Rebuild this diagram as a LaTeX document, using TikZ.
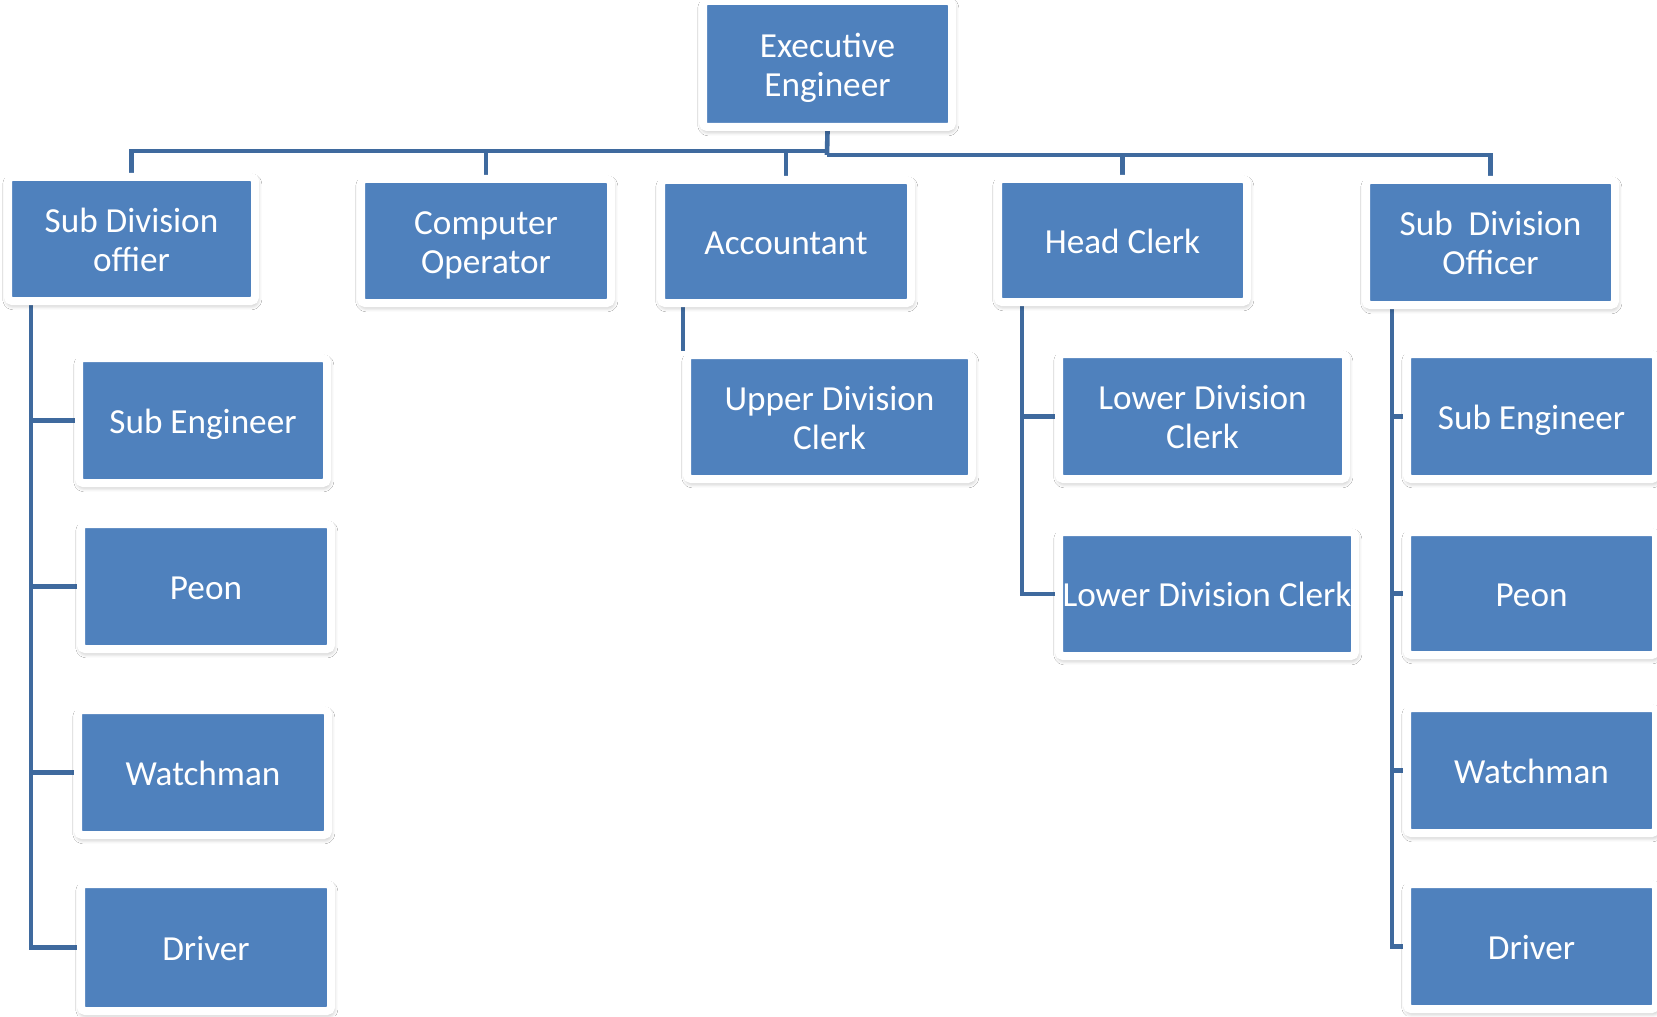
\documentclass[tikz,border=0pt]{standalone}
\usepackage{fontspec}
\setmainfont{Carlito}
\usetikzlibrary{backgrounds,shadows.blur}
\definecolor{boxblue}{HTML}{4F81BD}
\definecolor{linkblue}{HTML}{3F6A9E}
% one staff box: name, blue area (x1,y1)-(x2,y2) in px, label
\newcommand\staffbox[6]{%
  \node[orgbox, minimum width={(#4-#2+8)*0.5pt}, minimum height={(#5-#3+8)*0.5pt}]
    (#1) at ({(#2+#4)/2},{(#3+#5)/2})
    {\raisebox{-2.5pt}[\height][\depth]{\begin{tabular}{@{}c@{}}#6\end{tabular}}};}
\begin{document}
\begin{tikzpicture}[x=0.5pt,y=-0.5pt,
  orgbox/.style={rectangle, fill=boxblue, draw=white, line width=4pt,
    rounded corners=2pt, inner sep=0pt, text=white,
    font=\fontsize{17.6}{19.5}\selectfont,
    blur shadow={shadow xshift=0.4pt, shadow yshift=-1.4pt,
      shadow blur radius=3pt, shadow opacity=40, shadow blur steps=6}},
  conn/.style={draw=linkblue, line width=2.3pt}]
\useasboundingbox (0,0) rectangle (1657,1016);

% top level
\staffbox{exec}{707}{5}{948}{123}{Executive\\Engineer}

% second level
\staffbox{sdoL}{12}{181}{251}{297}{Sub Division\\offier}
\staffbox{cop}{365}{183}{607}{299}{Computer\\Operator}
\staffbox{acc}{665}{184}{907}{299}{Accountant}
\staffbox{hc}{1002}{183}{1243}{298}{Head Clerk}
\staffbox{sdoR}{1370}{184}{1611}{301}{Sub\ \ Division\\Officer}

% left sub division
\staffbox{seL}{83}{362}{323}{479}{Sub Engineer}
\staffbox{peonL}{85}{528}{327}{645}{Peon}
\staffbox{watchL}{82}{714}{324}{831}{Watchman}
\staffbox{drvL}{85}{888}{327}{1007}{Driver}

% accounts and office
\staffbox{udc}{691}{359}{968}{475}{Upper Division\\Clerk}
\staffbox{ldcA}{1063}{358}{1342}{475}{Lower Division\\Clerk}
\staffbox{ldcB}{1063}{536}{1351}{652}{Lower Division Clerk}

% right sub division
\staffbox{seR}{1411}{358}{1652}{475}{Sub Engineer}
\staffbox{peonR}{1411}{536}{1652}{651}{Peon}
\staffbox{watchR}{1411}{712}{1652}{829}{Watchman}
\staffbox{drvR}{1411}{888}{1652}{1005}{Driver}

\coordinate (busL) at (827,151);
\coordinate (busR) at (827,155);
\coordinate (tapL) at (31,0);
\coordinate (tapH) at (1022,0);
\coordinate (tapR) at (1392,0);

\begin{scope}[on background layer]
  \fill[white] (0,0) rectangle (1657,1016);
  % main bus
  \draw[conn] (exec.south) -- (busR);
  \draw[conn] (busL) -| (sdoL.north);
  \draw[conn] (busL) -| (cop.north);
  \draw[conn] (busL) -| (acc.north);
  \draw[conn] (busR) -| (hc.north);
  \draw[conn] (busR) -| (sdoR.north);
  % left sub division
  \foreach \c in {seL,peonL,watchL,drvL}
    \draw[conn] (tapL |- sdoL.south) |- (\c.west);
  % accountant
  \draw[conn] (acc.south -| udc.north west) -- (udc.north west);
  % head clerk
  \foreach \c in {ldcA,ldcB}
    \draw[conn] (tapH |- hc.south) |- (\c.west);
  % right sub division
  \foreach \c in {seR,peonR,watchR,drvR}
    \draw[conn] (tapR |- sdoR.south) |- (\c.west);
\end{scope}
\end{tikzpicture}
\end{document}
